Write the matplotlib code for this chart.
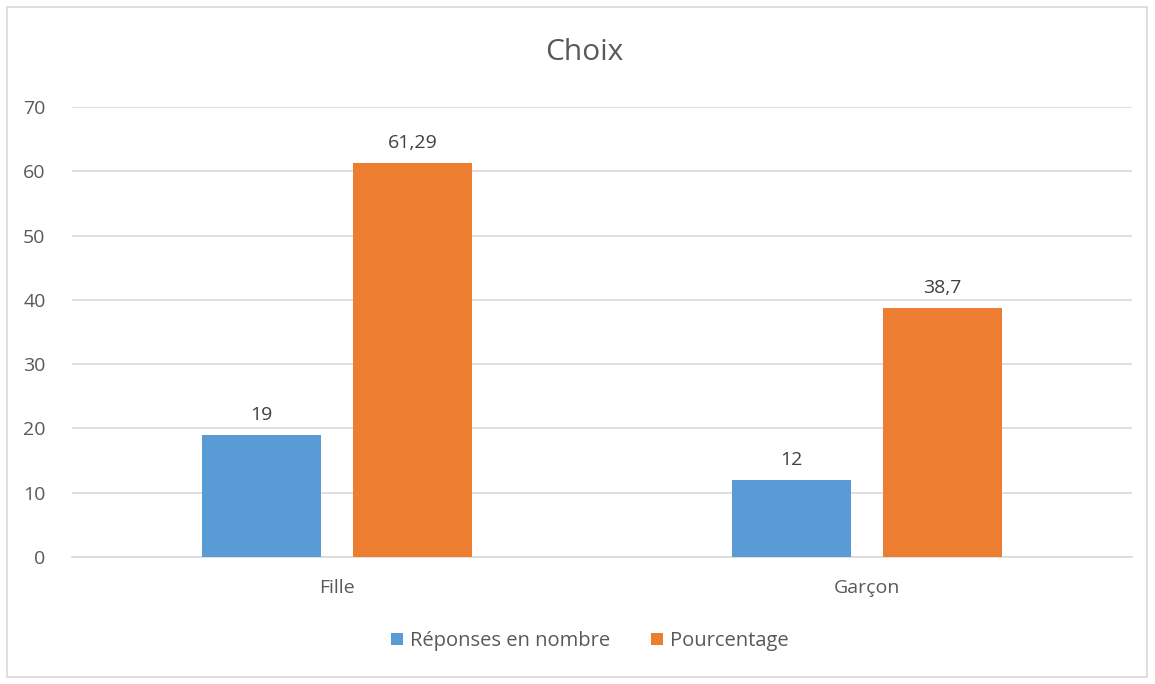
import numpy as np
import matplotlib.pyplot as plt
from matplotlib.patches import Rectangle

categories = ['Fille', 'Garçon']
reponses = [19, 12]
pourcentage = [61.29, 38.7]
labels_reponses = ['19', '12']
labels_pourcentage = ['61,29', '38,7']

plt.rcParams['font.family'] = ['Open Sans', 'DejaVu Sans']
text_color = '#595959'

fig = plt.figure(figsize=(11.55, 6.84), dpi=100)
fig.patches.append(Rectangle((7 / 1155, 7 / 684), 1140 / 1155, 670 / 684,
                             transform=fig.transFigure, fill=False,
                             edgecolor='#d9d9d9', linewidth=1.2))
ax = fig.add_axes([72 / 1155, 1 - 557 / 684, 1060 / 1155, 450 / 684])

x = np.arange(len(categories))
w = 0.223
off = 0.1425
b1 = ax.bar(x - off, reponses, w, color='#5B9BD5', label='Réponses en nombre', zorder=3)
b2 = ax.bar(x + off, pourcentage, w, color='#ED7D31', label='Pourcentage', zorder=3)
ax.bar_label(b1, labels=labels_reponses, padding=8, fontsize=14, color='#404040')
ax.bar_label(b2, labels=labels_pourcentage, padding=8, fontsize=14, color='#404040')

ax.set_xlim(-0.5, 1.5)
ax.set_ylim(0, 70)
ax.set_yticks(range(0, 71, 10))
ax.set_xticks(x)
ax.set_xticklabels(categories)
ax.grid(axis='y', color='#d9d9d9', linewidth=1.2, zorder=0)
for s in ['top', 'right', 'left']:
    ax.spines[s].set_visible(False)
ax.spines['bottom'].set_color('#d9d9d9')
ax.spines['bottom'].set_linewidth(1.2)
ax.tick_params(axis='both', length=0, labelsize=14, labelcolor=text_color)
ax.tick_params(axis='y', pad=19)
ax.tick_params(axis='x', pad=16)

fig.text(584 / 1155, 1 - 53 / 684, 'Choix', ha='center', va='center',
         fontsize=21.5, color=text_color)
fig.legend(loc='center', bbox_to_anchor=(590 / 1155, 1 - 641 / 684), ncol=2,
           frameon=False, fontsize=14.5, handlelength=0.6, handleheight=0.6,
           handletextpad=0.35, columnspacing=2.0, labelcolor=text_color)

fig.savefig('out.png', dpi=100)
